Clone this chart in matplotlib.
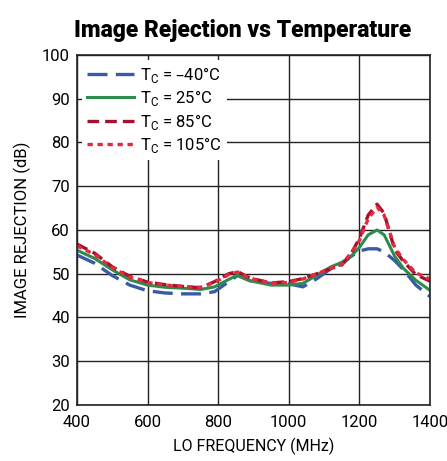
import matplotlib
matplotlib.use("Agg")
import matplotlib.pyplot as plt

plt.rcParams['font.family'] = ['Roboto', 'DejaVu Sans']

freq = [400, 450, 500, 550, 600, 650, 700, 750, 790, 830, 855, 890, 950, 1000,
        1040, 1080, 1120, 1150, 1175, 1200, 1225, 1250, 1270, 1300, 1325, 1360, 1400]

ir_m40 = [54.3, 52.4, 49.6, 47.4, 46.1, 45.6, 45.4, 45.4, 45.9, 48.2, 49.6, 48.4, 47.8, 47.7,
          47.0, 48.9, 51.2, 52.2, 53.9, 55.2, 55.7, 55.7, 55.0, 53.0, 50.9, 47.4, 44.8]
ir_25 = [55.4, 53.5, 50.9, 48.6, 47.4, 46.9, 46.7, 46.4, 47.0, 48.7, 49.7, 48.4, 47.4, 47.4,
         47.8, 49.7, 51.6, 52.6, 53.9, 56.0, 58.9, 60.0, 58.9, 54.0, 51.2, 48.5, 46.2]
ir_85 = [56.8, 54.7, 51.6, 49.4, 48.1, 47.5, 47.1, 46.8, 48.2, 50.0, 50.5, 49.0, 47.9, 48.2,
         48.9, 50.0, 51.2, 52.0, 54.3, 58.1, 63.4, 65.9, 63.8, 55.5, 52.8, 49.8, 48.3]
ir_105 = [56.4, 54.4, 51.4, 49.2, 48.0, 47.4, 47.1, 46.9, 48.0, 49.8, 50.4, 49.0, 47.8, 48.0,
          48.8, 50.0, 51.3, 52.2, 54.6, 57.6, 62.6, 65.2, 63.4, 56.0, 53.2, 50.2, 48.8]

labels = ["T$_\\mathregular{C}$ = \u201340\u00b0C", "T$_\\mathregular{C}$ = 25\u00b0C",
          "T$_\\mathregular{C}$ = 85\u00b0C", "T$_\\mathregular{C}$ = 105\u00b0C"]

fig = plt.figure(figsize=(4.47, 4.61), dpi=100)
ax = fig.add_axes([0.172, 0.1215, 0.790, 0.7592])

ax.plot(freq, ir_m40, color="#3b5aa6", lw=2.4, dashes=(6, 2.5), label=labels[0])
ax.plot(freq, ir_25, color="#2e8b4e", lw=2.2, label=labels[1])
ax.plot(freq, ir_85, color="#a3122e", lw=2.4, dashes=(3.5, 1.8), label=labels[2])
ax.plot(freq, ir_105, color="#e8293c", lw=2.4, dashes=(1.6, 1.4), label=labels[3])

ax.set_xlim(400, 1400)
ax.set_ylim(20, 100)
ax.set_xticks(range(400, 1401, 200))
ax.set_yticks(range(20, 101, 10))
ax.grid(True, color="#222222", lw=1.0)
ax.set_axisbelow(True)
ax.tick_params(length=0, labelsize=12)
ax.tick_params(axis="x", pad=7)
ax.tick_params(axis="y", pad=5)
for s in ax.spines.values():
    s.set_color("#222222")
    s.set_linewidth(1.2)

ax.set_xlabel("LO FREQUENCY (MHz)", fontsize=11.5, labelpad=6)
ax.set_ylabel("IMAGE REJECTION (dB)", fontsize=12, labelpad=8)
ax.set_title("Image Rejection vs Temperature", fontsize=16.5, fontweight="heavy",
             pad=13, x=0.47)

leg = ax.legend(loc="upper left", fontsize=12, frameon=True, framealpha=1,
                edgecolor="none", handlelength=2.8, handletextpad=0.4,
                labelspacing=0.2, borderpad=0.3, borderaxespad=0.3)
leg.get_frame().set_linewidth(0)

fig.savefig("out.png", dpi=100)
